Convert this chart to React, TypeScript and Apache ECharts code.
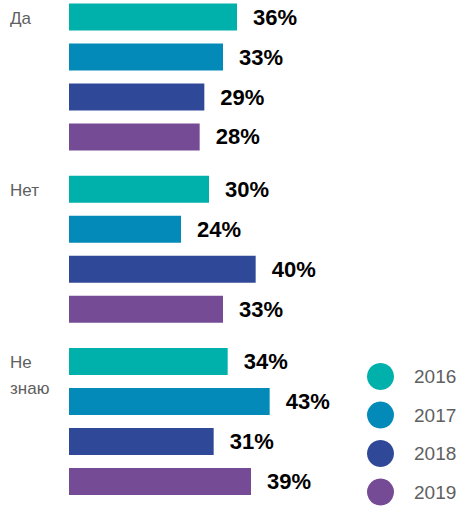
import React, { useEffect, useRef } from "react";
import * as echarts from "echarts";

const categories = ["Да", "Нет", "Не\nзнаю"];
const years = ["2016", "2017", "2018", "2019"];
const values2016 = [36, 30, 34];
const values2017 = [33, 24, 43];
const values2018 = [29, 40, 31];
const values2019 = [28, 33, 39];
const colors = ["#00b0ab", "#038ab8", "#2f4897", "#764b96"];

export default function App() {
  const ref = useRef<HTMLDivElement>(null);
  useEffect(() => {
    if (!ref.current) return;
    const chart = echarts.init(ref.current, null, { renderer: "svg" });
    const seriesValues = [values2016, values2017, values2018, values2019];
    chart.setOption({
      animation: false,
      grid: {
        left: 69,
        top: -9.1,
        width: 373.33,
        height: 516.75,
        outerBoundsMode: "none",
        containLabel: false,
      },
      xAxis: { type: "value", min: 0, max: 80, show: false },
      yAxis: {
        type: "category",
        data: categories,
        inverse: true,
        axisLine: { show: false },
        axisTick: { show: false },
        axisLabel: {
          formatter: (v: string) => (v.includes("\n") ? v : v + "\n\u00a0"),
          align: "left",
          margin: 59,
          verticalAlign: "bottom",
          lineHeight: 26,
          padding: [0, 0, 20, 0],
          fontFamily: "Liberation Sans",
          fontSize: 17,
          color: "#606060",
        },
      },
      legend: {
        orient: "vertical",
        left: 367,
        top: 363,
        padding: 0,
        icon: "circle",
        itemWidth: 27,
        itemHeight: 27,
        itemGap: 11.5,
        data: years,
        textStyle: {
          fontFamily: "Liberation Sans",
          fontSize: 19,
          color: "#606060",
          padding: [0, 0, 0, 15],
        },
      },
      series: years.map((y, i) => ({
        name: y,
        type: "bar",
        data: seriesValues[i],
        barWidth: 27,
        barGap: "48%",
        itemStyle: { color: colors[i] },
        label: {
          show: true,
          position: "right",
          distance: 16,
          formatter: "{c}%",
          fontFamily: "Liberation Sans",
          fontWeight: "bold",
          fontSize: 22,
          color: "#000",
        },
      })),
    });
    return () => chart.dispose();
  }, []);
  return (
    <div
      ref={ref}
      style={{ width: 459, height: 507, position: "absolute", left: 0, top: 0 }}
    />
  );
}
